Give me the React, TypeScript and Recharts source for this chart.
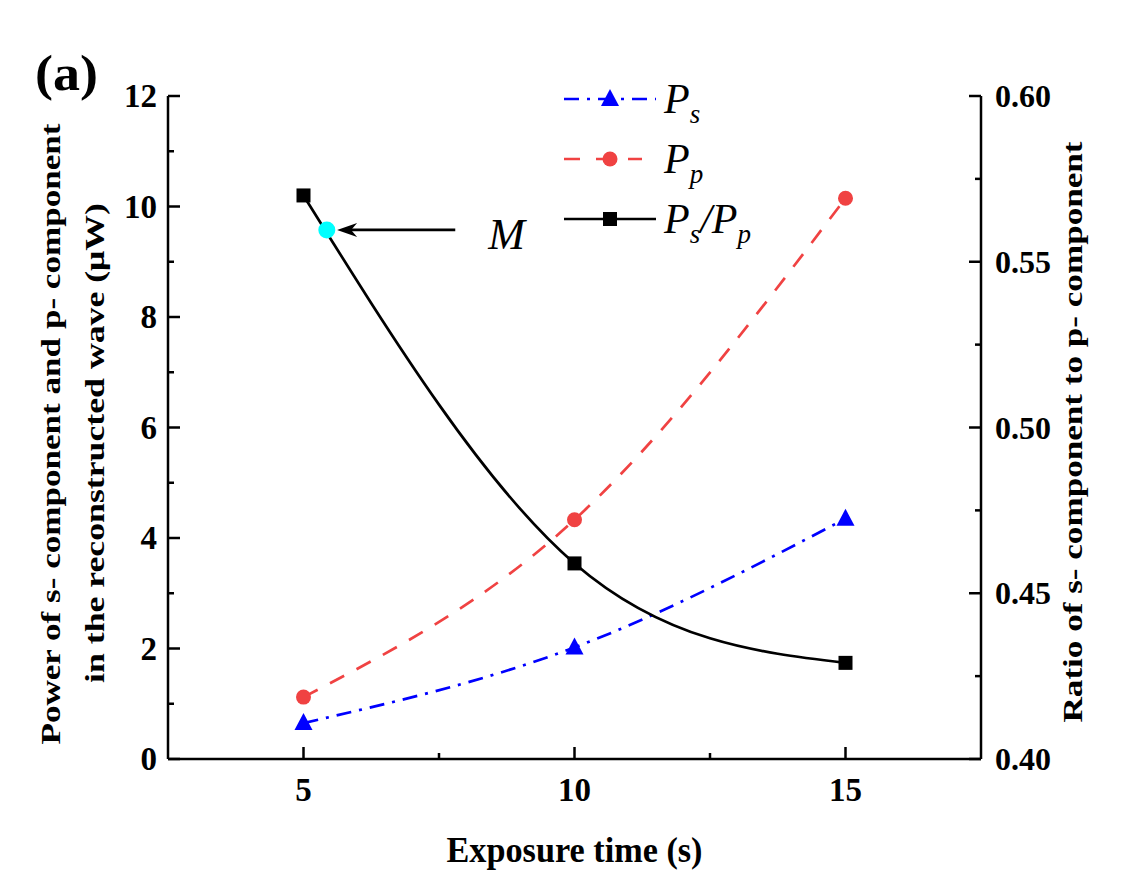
import React from "react";
import { LineChart, Line, XAxis, YAxis, Legend, ReferenceDot, ReferenceLine, Label } from "recharts";

// exposure time (s) and measured values
const exposureTime = [5, 10, 15];
const psPower = [0.65, 2.02, 4.35];
const ppPower = [1.12, 4.33, 10.15];
const ratioSP = [0.57, 0.459, 0.429];

const xTicks = [5, 7.5, 10, 12.5, 15];
const leftTicks = [0, 1, 2, 3, 4, 5, 6, 7, 8, 9, 10, 11, 12];
const rightTicks = [0.4, 0.425, 0.45, 0.475, 0.5, 0.525, 0.55, 0.575, 0.6];

// point M on the ratio curve, and where the arrow to it starts
const pointM = { t: 5.43, ratio: 0.5596 };
const arrowStart = 7.8;
const arrowTip = 5.62;

const data = exposureTime.map((t, i) => ({ t, ps: psPower[i], pp: ppPower[i], ratio: ratioSP[i] }));

const SERIF = '"Times New Roman", "Liberation Serif", serif';
const BLUE = "#0000FF";
const RED = "#F04242";
const PS_DASH = "15 8 3 8";
const PP_DASH = "16 14";

function XTick({ x, y, payload }: any) {
  const major = payload.value % 5 === 0;
  return (
    <g>
      <line x1={x} x2={x} y1={y} y2={y - (major ? 12 : 6)} stroke="#000" strokeWidth={2.5} />
      {major && (
        <text x={x} y={y + 42} textAnchor="middle" fontFamily={SERIF} fontWeight="bold" fontSize={33}>
          {payload.value}
        </text>
      )}
    </g>
  );
}

function LeftTick({ x, y, payload }: any) {
  const major = payload.value % 2 === 0;
  return (
    <g>
      <line x1={x} x2={x + (major ? 12 : 6)} y1={y} y2={y} stroke="#000" strokeWidth={2.5} />
      {major && (
        <text x={x - 11} y={y + 11} textAnchor="end" fontFamily={SERIF} fontWeight="bold" fontSize={33}>
          {payload.value}
        </text>
      )}
    </g>
  );
}

function RightTick({ x, y, payload }: any) {
  const major = Math.round(payload.value * 1000) % 50 === 0;
  return (
    <g>
      <line x1={x} x2={x - (major ? 12 : 6)} y1={y} y2={y} stroke="#000" strokeWidth={2.5} />
      {major && (
        <text x={x + 14} y={y + 11} textAnchor="start" fontFamily={SERIF} fontWeight="bold" fontSize={32}>
          {payload.value.toFixed(2)}
        </text>
      )}
    </g>
  );
}

const triangle = (cx: number, cy: number, color: string) => (
  <path d={`M${cx},${cy - 10} L${cx + 9},${cy + 7} L${cx - 9},${cy + 7} Z`} fill={color} />
);
const square = (cx: number, cy: number) => <rect x={cx - 7} y={cy - 7} width={14} height={14} fill="#000" />;

const PsDot = (p: any) => <g key={`ps-${p.index}`}>{triangle(p.cx, p.cy, BLUE)}</g>;
const PpDot = (p: any) => <circle key={`pp-${p.index}`} cx={p.cx} cy={p.cy} r={7.5} fill={RED} />;
const RatioDot = (p: any) => <g key={`r-${p.index}`}>{square(p.cx, p.cy)}</g>;

function Arrow({ x1, y1, x2, y2 }: any) {
  return (
    <g>
      <line x1={x1} y1={y1} x2={x2 + 12} y2={y2} stroke="#000" strokeWidth={2.8} />
      <path d={`M${x2},${y2} L${x2 + 20},${y2 - 7} L${x2 + 14},${y2} L${x2 + 20},${y2 + 7} Z`} fill="#000" />
      <text x={x1 + 33} y={y1 + 19} fontFamily={SERIF} fontStyle="italic" fontSize={44}>
        M
      </text>
    </g>
  );
}

function LegendBox() {
  const rows = [99, 159, 219];
  const txt = { fontFamily: SERIF, fontStyle: "italic" as const, fontSize: 42 };
  return (
    <svg width={240} height={260} style={{ overflow: "visible" }}>
      <g transform="translate(-555,-70)">
        <line x1={564} x2={656} y1={rows[0]} y2={rows[0]} stroke={BLUE} strokeWidth={2.7} strokeDasharray="15 8 3 8" />
        {triangle(610, rows[0], BLUE)}
        <text x={664} y={rows[0] + 14} {...txt}>
          P<tspan fontSize={27} dy={10}>s</tspan>
        </text>
        <line x1={564} x2={642} y1={rows[1]} y2={rows[1]} stroke={RED} strokeWidth={2.7} strokeDasharray="16 16" />
        <circle cx={610} cy={rows[1]} r={7.5} fill={RED} />
        <text x={664} y={rows[1] + 14} {...txt}>
          P<tspan fontSize={27} dy={10}>p</tspan>
        </text>
        <line x1={564} x2={656} y1={rows[2]} y2={rows[2]} stroke="#000" strokeWidth={2.7} />
        {square(610, rows[2])}
        <text x={664} y={rows[2] + 14} {...txt}>
          P<tspan fontSize={27} dy={10}>s</tspan>
          <tspan dy={-10} fontSize={42}>/P</tspan>
          <tspan fontSize={27} dy={10}>p</tspan>
        </text>
      </g>
    </svg>
  );
}

export default function App() {
  return (
    <div style={{ position: "absolute", left: 0, top: 0, width: 1134, height: 896, background: "#fff" }}>
      <LineChart width={1134} height={896} data={data} margin={{ top: 96, right: 93, bottom: 107, left: 108 }}>
        <XAxis
          dataKey="t"
          type="number"
          domain={[2.5, 17.5]}
          ticks={xTicks}
          interval={0}
          height={30}
          tickSize={0}
          tickMargin={0}
          tick={<XTick />}
          axisLine={{ stroke: "#000", strokeWidth: 2.5 }}
        >
          <Label
            content={({ viewBox }: any) => (
              <text
                x={viewBox.x + viewBox.width / 2}
                y={viewBox.y + 103}
                textAnchor="middle"
                fontFamily={SERIF}
                fontWeight="bold"
                fontSize={35}
                textLength={256}
                lengthAdjust="spacingAndGlyphs"
              >
                Exposure time (s)
              </text>
            )}
          />
        </XAxis>
        <YAxis
          yAxisId="left"
          orientation="left"
          type="number"
          domain={[0, 12]}
          ticks={leftTicks}
          interval={0}
          width={60}
          tickSize={0}
          tickMargin={0}
          tick={<LeftTick />}
          axisLine={{ stroke: "#000", strokeWidth: 2.5 }}
        >
          <Label
            content={() => (
              <g fontFamily={SERIF} fontWeight="bold">
                <text x={35} y={90} fontSize={50} textLength={63} lengthAdjust="spacingAndGlyphs">
                  (a)
                </text>
                <text
                  x={60}
                  y={434}
                  transform="rotate(-90, 60, 434)"
                  textAnchor="middle"
                  fontSize={28}
                  textLength={621}
                  lengthAdjust="spacingAndGlyphs"
                >
                  Power of s- component and p- component
                </text>
                <text
                  x={104}
                  y={443}
                  transform="rotate(-90, 104, 443)"
                  textAnchor="middle"
                  fontSize={28}
                  textLength={480}
                  lengthAdjust="spacingAndGlyphs"
                >
                  in the reconstructed wave (μW)
                </text>
              </g>
            )}
          />
        </YAxis>
        <YAxis
          yAxisId="right"
          orientation="right"
          type="number"
          domain={[0.4, 0.6]}
          ticks={rightTicks}
          interval={0}
          width={60}
          tickSize={0}
          tickMargin={0}
          tick={<RightTick />}
          axisLine={{ stroke: "#000", strokeWidth: 2.5 }}
        >
          <Label
            content={() => (
              <text
                x={1082}
                y={432}
                transform="rotate(-90, 1082, 432)"
                textAnchor="middle"
                fontFamily={SERIF}
                fontWeight="bold"
                fontSize={28}
                textLength={581}
                lengthAdjust="spacingAndGlyphs"
              >
                Ratio of s- component to p- component
              </text>
            )}
          />
        </YAxis>
        <Legend
          layout="vertical"
          align="center"
          verticalAlign="middle"
          content={() => <LegendBox />}
          wrapperStyle={{ left: 555, top: 70, width: 240, height: 180 }}
        />
        <Line
          yAxisId="left"
          type="natural"
          dataKey="ps"
          name="Ps"
          stroke={BLUE}
          strokeWidth={2.7}
          strokeDasharray={PS_DASH}
          dot={PsDot}
          activeDot={false}
          isAnimationActive={false}
        />
        <Line
          yAxisId="left"
          type="natural"
          dataKey="pp"
          name="Pp"
          stroke={RED}
          strokeWidth={2.7}
          strokeDasharray={PP_DASH}
          dot={PpDot}
          activeDot={false}
          isAnimationActive={false}
        />
        <Line
          yAxisId="right"
          type="natural"
          dataKey="ratio"
          name="Ps/Pp"
          stroke="#000"
          strokeWidth={2.7}
          dot={RatioDot}
          activeDot={false}
          isAnimationActive={false}
        />
        <ReferenceLine
          yAxisId="right"
          segment={[
            { x: arrowStart, y: pointM.ratio },
            { x: arrowTip, y: pointM.ratio },
          ]}
          shape={Arrow}
        />
        <ReferenceDot yAxisId="right" x={pointM.t} y={pointM.ratio} r={8.5} fill="#00FFFF" stroke="none" />
      </LineChart>
    </div>
  );
}
